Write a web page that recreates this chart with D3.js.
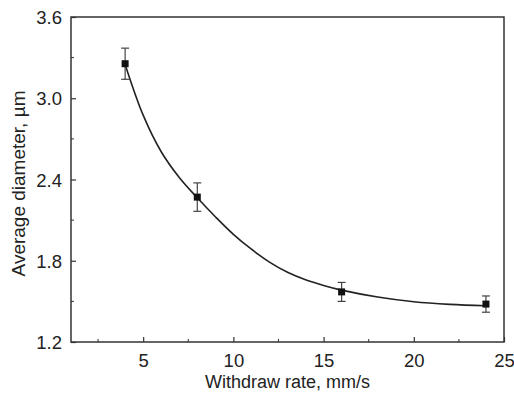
<!DOCTYPE html>
<html><head><meta charset="utf-8">
<script src="https://cdn.jsdelivr.net/npm/d3@7"></script>
<style>body{margin:0;background:#fff}svg{display:block}text{font-family:"Liberation Sans",Arial,sans-serif;fill:#222}</style>
</head><body><div id="chart"></div>
<script>
// Measured points (withdraw rate, mm/s -> average diameter, µm)
const rates = [4, 8, 16, 24];
const diameters = [3.255, 2.27, 1.57, 1.48];
const errors = [0.115, 0.105, 0.07, 0.06];
// Fitted curve
const fitRates = [4, 5, 6, 7, 8, 9, 10, 11, 12, 13, 14, 15, 16, 18, 20, 22, 24];
const fitDiameters = [3.25, 2.875, 2.605, 2.415, 2.265, 2.125, 1.995, 1.885, 1.79, 1.715, 1.66, 1.618, 1.583, 1.532, 1.497, 1.478, 1.468];
const xTicks = [5, 10, 15, 20, 25];
const xMinor = [2.5, 7.5, 12.5, 17.5, 22.5];
const yTicks = [1.2, 1.8, 2.4, 3.0, 3.6];
const yMinor = [1.5, 2.1, 2.7, 3.3];
const xTitle = "Withdraw rate, mm/s";
const yTitle = "Average diameter, µm";

const W = 514, H = 394;
const m = {left: 71, right: 10, top: 17, bottom: 52};
const svg = d3.select("#chart").append("svg").attr("width", W).attr("height", H);
const x = d3.scaleLinear().domain([1, 25]).range([m.left, W - m.right]);
const y = d3.scaleLinear().domain([1.2, 3.6]).range([H - m.bottom, m.top]);

const frameColor = "#333";
// Axes with inward ticks
const gx = svg.append("g").attr("transform", `translate(0,${y(1.2)})`)
  .call(d3.axisBottom(x).tickValues(xTicks).tickFormat(d3.format("d")).tickSizeInner(-5).tickSizeOuter(0).tickPadding(12));
gx.append("g").selectAll("line").data(xMinor).join("line")
  .attr("x1", d => x(d)).attr("x2", d => x(d)).attr("y1", 0).attr("y2", -3).attr("stroke", frameColor);
const gy = svg.append("g").attr("transform", `translate(${x(1)},0)`)
  .call(d3.axisLeft(y).tickValues(yTicks).tickFormat(d3.format(".1f")).tickSizeInner(-5).tickSizeOuter(0).tickPadding(9));
gy.append("g").selectAll("line").data(yMinor).join("line")
  .attr("y1", d => y(d)).attr("y2", d => y(d)).attr("x1", 0).attr("x2", 3).attr("stroke", frameColor);
[gx, gy].forEach(g => {
  g.select(".domain").remove();
  g.selectAll(".tick line").attr("stroke", frameColor).attr("stroke-width", 1.2);
  g.selectAll(".tick text").attr("font-size", 18.5).attr("fill", "#222").attr("font-family", '"Liberation Sans",Arial,sans-serif');
});
gy.selectAll(".tick text").attr("dy", "0.36em");

// Frame
svg.append("rect").attr("x", x(1)).attr("y", y(3.6))
  .attr("width", x(25) - x(1)).attr("height", y(1.2) - y(3.6))
  .attr("fill", "none").attr("stroke", frameColor).attr("stroke-width", 1.5);

// Fit curve
svg.append("path")
  .datum(fitRates.map((r, i) => [r, fitDiameters[i]]))
  .attr("d", d3.line().x(d => x(d[0])).y(d => y(d[1])).curve(d3.curveCatmullRom.alpha(0.5)))
  .attr("fill", "none").attr("stroke", "#222").attr("stroke-width", 1.6);

// Error bars
const pts = rates.map((r, i) => ({r, d: diameters[i], e: errors[i]}));
const eb = svg.append("g").attr("stroke", "#444").attr("stroke-width", 1.2);
eb.selectAll(".v").data(pts).join("line")
  .attr("x1", d => x(d.r)).attr("x2", d => x(d.r))
  .attr("y1", d => y(d.d + d.e)).attr("y2", d => y(d.d - d.e));
eb.selectAll(".t").data(pts).join("line")
  .attr("x1", d => x(d.r) - 4).attr("x2", d => x(d.r) + 4)
  .attr("y1", d => y(d.d + d.e)).attr("y2", d => y(d.d + d.e));
eb.selectAll(".b").data(pts).join("line")
  .attr("x1", d => x(d.r) - 4).attr("x2", d => x(d.r) + 4)
  .attr("y1", d => y(d.d - d.e)).attr("y2", d => y(d.d - d.e));

// Square markers
svg.append("g").selectAll("rect").data(pts).join("rect")
  .attr("x", d => x(d.r) - 3.5).attr("y", d => y(d.d) - 3.5)
  .attr("width", 7).attr("height", 7).attr("fill", "#111");

// Titles
svg.append("text").attr("x", (x(1) + x(25)) / 2).attr("y", 388)
  .attr("text-anchor", "middle").attr("font-size", 18).text(xTitle);
svg.append("text").attr("transform", `translate(25,${(y(1.2) + y(3.6)) / 2 + 4}) rotate(-90)`)
  .attr("text-anchor", "middle").attr("font-size", 19).text(yTitle);
</script></body></html>
